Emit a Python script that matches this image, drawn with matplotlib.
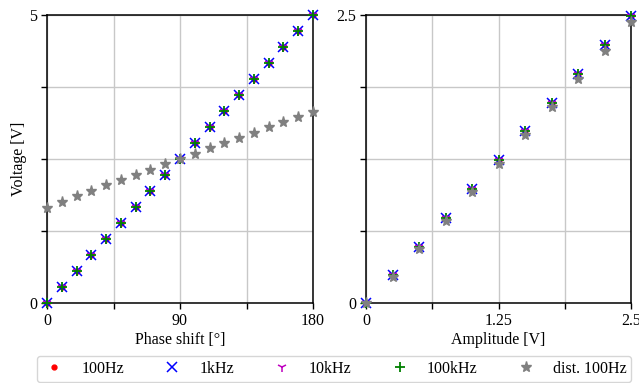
import numpy as np
import matplotlib.pyplot as plt

plt.rcParams["font.family"] = "serif"
plt.rcParams["font.serif"] = ["Liberation Serif", "DejaVu Serif"]
plt.rcParams["font.size"] = 11.5
plt.rcParams["mathtext.fontset"] = "dejavuserif"

# left panel: voltage vs phase shift
phase = [0, 10, 20, 30, 40, 50, 60, 70, 80, 90,
         100, 110, 120, 130, 140, 150, 160, 170, 180]
v_phase = [0.0, 0.28, 0.56, 0.83, 1.11, 1.39, 1.67, 1.94, 2.22, 2.50,
           2.78, 3.06, 3.33, 3.61, 3.89, 4.17, 4.44, 4.72, 5.0]
v_phase_dist = [1.65, 1.75, 1.86, 1.94, 2.04, 2.13, 2.22, 2.31, 2.41, 2.50,
                2.59, 2.69, 2.77, 2.87, 2.96, 3.05, 3.15, 3.23, 3.32]

# right panel: voltage vs amplitude
amp = [0, 0.25, 0.5, 0.75, 1.0, 1.25, 1.5, 1.75, 2.0, 2.25, 2.5]
v_amp = [0.0, 0.245, 0.49, 0.74, 0.99, 1.24, 1.49, 1.74, 1.99, 2.24, 2.49]
v_amp_dist = [0.0, 0.225, 0.47, 0.715, 0.96, 1.21, 1.455, 1.70, 1.945, 2.19, 2.44]

labels = ["100Hz", "1kHz", "10kHz", "100kHz", "dist. 100Hz"]
styles = [
    dict(marker=".", color="red", ms=7),
    dict(marker="x", color="blue", ms=7, mew=1.1),
    dict(marker="1", color="m", ms=7, mew=1.1),
    dict(marker="+", color="green", ms=7, mew=1.3),
    dict(marker="*", color="gray", ms=8),
]

fig = plt.figure(figsize=(6.39, 3.83), dpi=100)
ax1 = fig.add_axes([47 / 639, 1 - 303 / 383, 266 / 639, 288 / 383])
ax2 = fig.add_axes([366 / 639, 1 - 303 / 383, 265 / 639, 288 / 383])

handles = []
for st in styles[:4]:
    h, = ax1.plot(phase, v_phase, ls="none", clip_on=False, zorder=3, **st)
    ax2.plot(amp, v_amp, ls="none", clip_on=False, zorder=3, **st)
    handles.append(h)
h, = ax1.plot(phase, v_phase_dist, ls="none", clip_on=False, zorder=4, **styles[4])
ax2.plot(amp, v_amp_dist, ls="none", clip_on=False, zorder=4, **styles[4])
handles.append(h)

ax1.set_xlim(0, 180)
ax1.set_ylim(0, 5)
ax1.set_xticks([0, 45, 90, 135, 180])
ax1.set_xticklabels(["0", "", "90", "", "180"])
ax1.set_yticks([0, 1.25, 2.5, 3.75, 5])
ax1.set_yticklabels(["0", "", "", "", "5"])
ax1.set_xlabel("Phase shift [°]", labelpad=2)
ax1.set_ylabel("Voltage [V]", labelpad=2)

ax2.set_xlim(0, 2.5)
ax2.set_ylim(0, 2.5)
ax2.set_xticks([0, 0.625, 1.25, 1.875, 2.5])
ax2.set_xticklabels(["0", "", "1.25", "", "2.5"])
ax2.set_yticks([0, 0.625, 1.25, 1.875, 2.5])
ax2.set_yticklabels(["0", "", "", "", "2.5"])
ax2.set_xlabel("Amplitude [V]", labelpad=2)

for ax in (ax1, ax2):
    ax.grid(True, color="#c8c8c8", lw=1)
    ax.set_axisbelow(True)
    ax.tick_params(direction="out", length=4, width=1, pad=3)
    for s in ax.spines.values():
        s.set_linewidth(1.1)

fig.legend(handles, labels, loc="center", ncol=5,
           bbox_to_anchor=(334 / 639, 1 - 369 / 383),
           frameon=True, fancybox=True, edgecolor="#cccccc",
           handlelength=1.6, handletextpad=0.9, columnspacing=2.2,
           borderpad=0.3, fontsize=11.5)

fig.savefig("out.png", dpi=100)
